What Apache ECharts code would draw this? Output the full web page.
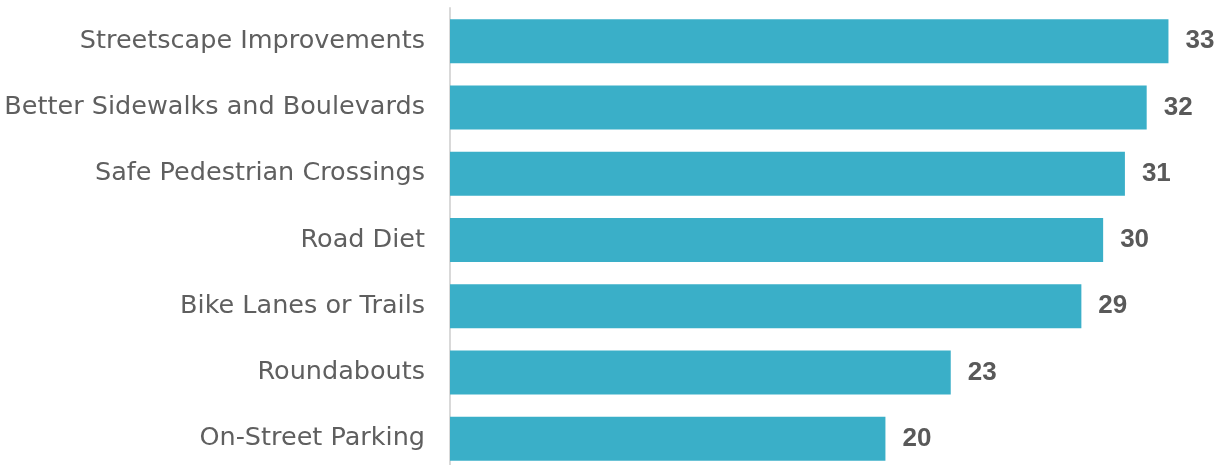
<!DOCTYPE html>
<html>
<head>
<meta charset="utf-8">
<script src="https://cdn.jsdelivr.net/npm/echarts@6/dist/echarts.min.js"></script>
<style>
  html, body { margin: 0; padding: 0; background: #ffffff; overflow: hidden; }
  #chart { width: 1222px; height: 480px; }
</style>
</head>
<body>
<div id="chart"></div>
<script>
// Survey responses: preferred street improvements
const categories = [
  'Streetscape Improvements',
  'Better Sidewalks and Boulevards',
  'Safe Pedestrian Crossings',
  'Road Diet',
  'Bike Lanes or Trails',
  'Roundabouts',
  'On-Street Parking'
];
const responses = [33, 32, 31, 30, 29, 23, 20];

const chart = echarts.init(document.getElementById('chart'), null, { renderer: 'canvas' });

chart.setOption({
  animation: false,
  grid: { left: 450, top: 8, width: 762, height: 464, containLabel: false },
  xAxis: {
    type: 'value',
    min: 0,
    max: 35,
    show: false
  },
  yAxis: {
    type: 'category',
    data: categories,
    inverse: true,
    axisLine: { show: true, lineStyle: { color: '#d9d9d9', width: 2 } },
    axisTick: { show: false },
    splitLine: { show: false },
    axisLabel: {
      margin: 25,
      color: '#5f5f5f',
      fontFamily: '"DejaVu Sans", sans-serif',
      fontSize: 25.5
    }
  },
  series: [{
    type: 'bar',
    data: responses,
    barWidth: 44,
    itemStyle: { color: '#3aafc8' },
    label: {
      show: true,
      position: 'right',
      distance: 17,
      color: '#595959',
      fontFamily: '"Liberation Sans", Arial, sans-serif',
      fontWeight: 'bold',
      fontSize: 26
    }
  }]
});
</script>
</body>
</html>
